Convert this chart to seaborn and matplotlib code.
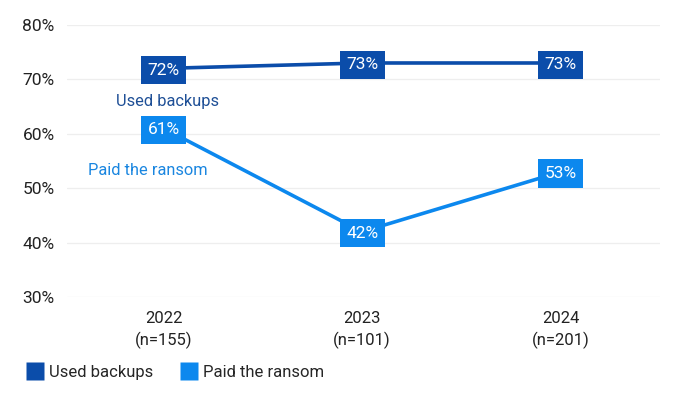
import numpy as np
import pandas as pd
import matplotlib
matplotlib.use("Agg")
import matplotlib.pyplot as plt
import seaborn as sns
from matplotlib.lines import Line2D

years = ["2022\n(n=155)", "2023\n(n=101)", "2024\n(n=201)"]
used_backups = [72, 73, 73]
paid_ransom = [61, 42, 53]
series_names = ["Used backups", "Paid the ransom"]
y_ticks = [30, 40, 50, 60, 70, 80]

colors = {"Used backups": "#0B4DAA", "Paid the ransom": "#0C88EE"}
text_colors = {"Used backups": "#1E4F96", "Paid the ransom": "#1A86E0"}

df = pd.DataFrame({
    "year": list(range(len(years))) * 2,
    "value": used_backups + paid_ransom,
    "series": [series_names[0]] * len(years) + [series_names[1]] * len(years),
})

sns.set_theme(style="white")
plt.rcParams["font.family"] = ["Roboto", "DejaVu Sans"]

fig = plt.figure(figsize=(7, 3.95), dpi=100)
ax = fig.add_axes([0.096, 0.248, 0.847, 0.689])

sns.lineplot(data=df, x="year", y="value", hue="series", palette=colors,
             linewidth=2.6, ax=ax, legend=False, sort=False)

# value boxes
for name, vals in zip(series_names, [used_backups, paid_ransom]):
    for i, v in enumerate(vals):
        ax.text(i, v - 0.3, f"{v}%", ha="center", va="center", color="white", fontsize=12.5,
                bbox=dict(boxstyle="square,pad=0.38", facecolor=colors[name], edgecolor="none"),
                zorder=5)

# inline series labels
ax.text(0.02, 66.0, "Used backups", ha="center", va="center", fontsize=11.8,
        color=text_colors["Used backups"])
ax.text(-0.08, 53.3, "Paid the ransom", ha="center", va="center", fontsize=11.8,
        color=text_colors["Paid the ransom"])

ax.set_xlim(-0.485, 2.5)
ax.set_ylim(30, 80)
ax.set_yticks(y_ticks)
ax.set_yticklabels([f"{t}%" for t in y_ticks], fontsize=12.5, color="#222222")
ax.set_xticks(range(len(years)))
ax.set_xticklabels(years, fontsize=12, color="#222222", linespacing=1.45)
ax.tick_params(axis="both", length=0)
ax.tick_params(axis="y", pad=9)
ax.tick_params(axis="x", pad=10)
ax.grid(axis="y", color="#EEEEEE", linewidth=0.9)
ax.set_axisbelow(True)
for s in ax.spines.values():
    s.set_visible(False)
ax.set_xlabel("")
ax.set_ylabel("")

handles = [Line2D([0], [0], marker="s", linestyle="none", markersize=12.5,
                  markerfacecolor=colors[n], markeredgecolor="none") for n in series_names]
fig.legend(handles, series_names, loc="lower left", bbox_to_anchor=(0.017, 0.0),
           ncol=2, frameon=False, fontsize=12, handletextpad=0.3, columnspacing=1.7,
           handlelength=1.0)

fig.savefig("out.png", dpi=100)
